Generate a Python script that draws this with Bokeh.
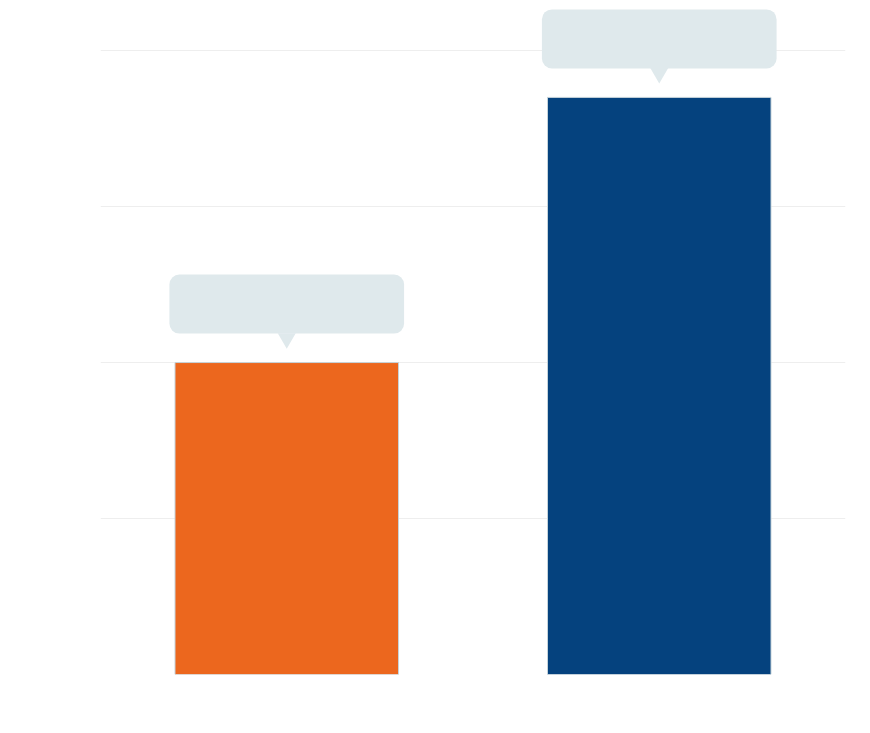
from bokeh.plotting import figure
from bokeh.models import FactorRange, Range1d, FixedTicker, ColumnDataSource
from bokeh.embed import file_html
from bokeh.resources import INLINE

# ---- data ----
categories = ["A", "B"]
values = [20, 37]
bar_colors = ["#ec671e", "#05427e"]
y_ticks = [0, 10, 20, 30, 40]

src = ColumnDataSource(dict(x=categories, top=values, color=bar_colors,
                            callout_y=[v + 3.75 for v in values],
                            pointer_y=[v + 1.55 for v in values]))

p = figure(width=850, height=717, output_backend="svg", toolbar_location=None,
           x_range=FactorRange(*categories, range_padding=0),
           y_range=Range1d(0, 42.7),
           min_border_left=100, min_border_right=5, min_border_top=8,
           min_border_bottom=43)

p.outline_line_color = None
p.background_fill_color = "white"
p.border_fill_color = "white"
p.xaxis.visible = False
p.yaxis.visible = False
p.xgrid.grid_line_color = None
p.ygrid.ticker = FixedTicker(ticks=y_ticks)
p.ygrid.grid_line_color = "#eeeeee"
p.ygrid.grid_line_width = 1

p.vbar(x="x", top="top", width=0.6, bottom=0, source=src,
       fill_color="color", line_color="#c5d3da", line_width=1)

r = p.rect(x="x", y="callout_y", width=0.63, height=59, height_units="screen",
           source=src, fill_color="#dfe9ec", line_color=None)
try:
    r.glyph.border_radius = 10
except Exception:
    pass

p.scatter(x="x", y="pointer_y", marker="inverted_triangle", size=18,
          source=src, fill_color="#dfe9ec", line_color=None)

open("out.html", "w").write(file_html(p, INLINE))
